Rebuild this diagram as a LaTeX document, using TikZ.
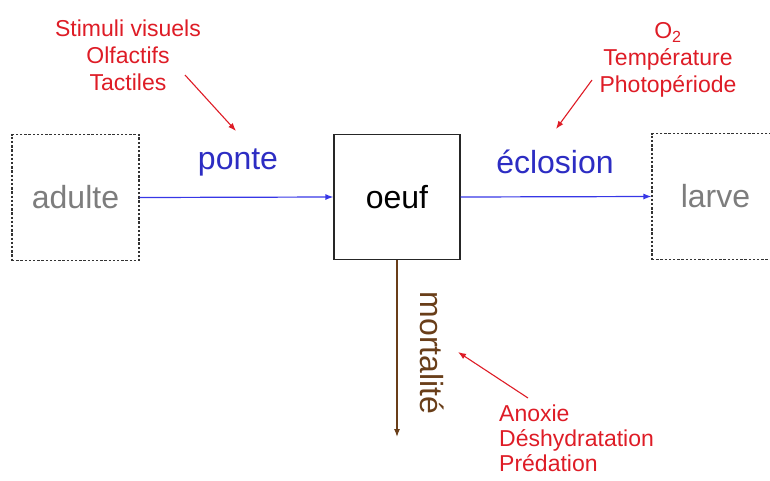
\documentclass[tikz,border=0pt]{standalone}
\usepackage{fontspec}
\setmainfont{Liberation Sans}
\usepackage{tikz}
\usetikzlibrary{arrows.meta}

\definecolor{facteur}{RGB}{222,28,38}
\definecolor{etape}{RGB}{45,45,195}
\definecolor{fleche}{RGB}{55,55,230}
\definecolor{brun}{RGB}{105,62,25}
\definecolor{gris}{RGB}{125,125,125}

\tikzset{
  stade/.style={draw=black!80, dashed, dash pattern=on 2.4pt off 1.8pt, line width=1.1pt,
    minimum width=127pt, minimum height=126pt, inner sep=0pt,
    text=gris, font=\fontsize{32}{36}\selectfont},
  oeufbox/.style={draw=black!85, line width=1.2pt, minimum width=126pt, minimum height=125pt,
    inner sep=0pt, font=\fontsize{32}{36}\selectfont},
  processus/.style={text=etape, font=\fontsize{32}{36}\selectfont, inner sep=0pt},
  facteurs/.style={text=facteur, font=\fontsize{23}{27}\selectfont, inner sep=0pt},
  flux/.style={draw=fleche, line width=1.2pt, -{Latex[length=8pt,width=6pt]}},
  influence/.style={draw=facteur, line width=1.1pt, -{Latex[length=8pt,width=6pt]}}
}

\begin{document}
\begin{tikzpicture}[x=1pt,y=-1pt]
  \useasboundingbox (0,0) rectangle (770,480);
  % stades
  \node [stade] (adulte) at (75.5,197.5) {adulte};
  \node [oeufbox] (oeuf) at (397,197) {oeuf};
  \node [stade] (larve) at (715.5,196.5) {larve};
  \coordinate (fin) at (397,437);
  % processus
  \draw [flux] (adulte.east) -- (oeuf.west);
  \draw [flux] (oeuf.east) -- (larve.west);
  \draw [brun, line width=1.2pt, -{Latex[length=8pt,width=6pt]}] (oeuf.south) -- (fin);
  \node [processus] (ponte) at (238,162) {ponte};
  \node [processus] (eclosion) at (555,162) {éclosion};
  \node [processus, text=brun, rotate=-90] (mortalite) at (432,353) {mortalité};
  % facteurs
  \node [facteurs, align=center] (stimuli) at (128,55) {Stimuli visuels\\Olfactifs\\Tactiles};
  \node [facteurs, align=center] (milieu) at (668,60) {O\textsubscript{2}\\Température\\Photopériode};
  \node [facteurs, font=\fontsize{23}{25}\selectfont, align=left, anchor=north west] (risques)
    at (499,405) {Anoxie\\Déshydratation\\Prédation};
  \coordinate (c1) at (185,75);
  \coordinate (c2) at (236,131);
  \coordinate (c3) at (592,80);
  \coordinate (c4) at (556,129);
  \coordinate (c5) at (528,398);
  \coordinate (c6) at (458,352);
  \draw [influence] (c1) -- (c2);
  \draw [influence] (c3) -- (c4);
  \draw [influence] (c5) -- (c6);
\end{tikzpicture}
\end{document}
